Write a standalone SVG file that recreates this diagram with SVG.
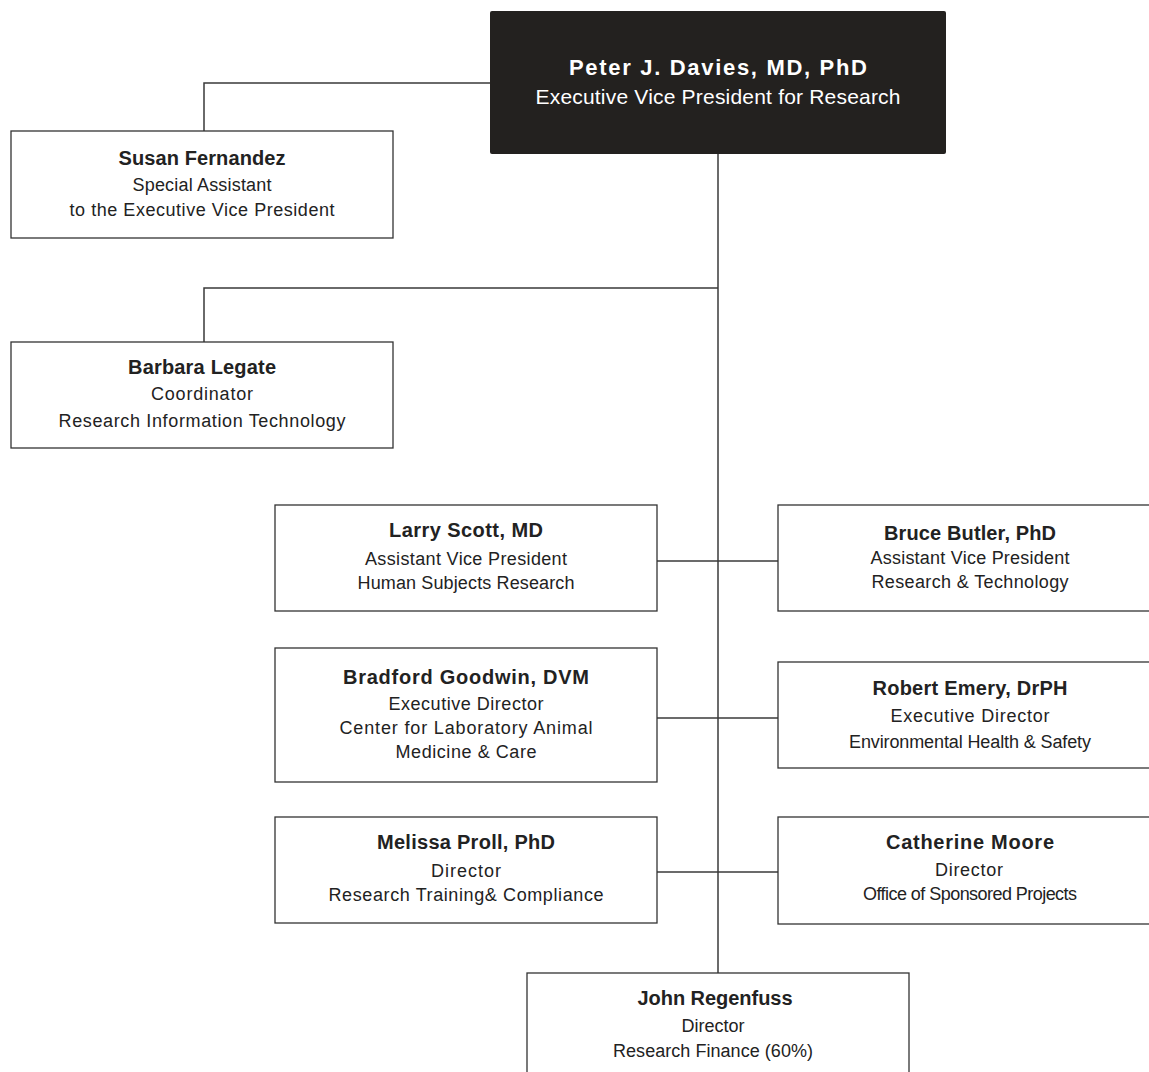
<svg xmlns="http://www.w3.org/2000/svg" width="1149" height="1072" viewBox="0 0 1149 1072">
<style>
.box{fill:#ffffff;stroke:#333333;stroke-width:1.3}
.top{fill:#23211f;stroke:none}
.name{font-family:"Liberation Sans",Arial,sans-serif;font-weight:bold;font-size:20px;fill:#222222;text-anchor:middle}
.sub{font-family:"Liberation Sans",Arial,sans-serif;font-size:18px;fill:#222222;text-anchor:middle}
.tname{font-family:"Liberation Sans",Arial,sans-serif;font-weight:bold;font-size:22px;fill:#ffffff;text-anchor:middle}
.tsub{font-family:"Liberation Sans",Arial,sans-serif;font-size:21px;fill:#ffffff;text-anchor:middle}
.conn{fill:none;stroke:#3a3a3a;stroke-width:1.5}
</style>
<rect width="1149" height="1072" fill="#ffffff"/>
<g id="connectors">
<line class="conn" x1="718" y1="154" x2="718" y2="973" stroke-width="2"/>
<polyline class="conn" points="490,83 204,83 204,131"/>
<polyline class="conn" points="718,288 204,288 204,342"/>
<line class="conn" x1="657" y1="561" x2="778" y2="561"/>
<line class="conn" x1="657" y1="718" x2="778" y2="718"/>
<line class="conn" x1="657" y1="872" x2="778" y2="872"/>
</g>
<g id="peter">
<rect class="top" x="490" y="11" width="456" height="143" rx="2"/>
<text class="tname" x="718" y="75" textLength="298" lengthAdjust="spacing">Peter J. Davies, MD, PhD</text>
<text class="tsub" x="718" y="104" textLength="365" lengthAdjust="spacing">Executive Vice President for Research</text>
</g>
<g id="susan">
<rect class="box" x="11" y="131" width="382" height="107"/>
<text class="name" x="202" y="165" textLength="167" lengthAdjust="spacing">Susan Fernandez</text>
<text class="sub" x="202" y="191" textLength="139" lengthAdjust="spacing">Special Assistant</text>
<text class="sub" x="202" y="216" textLength="265" lengthAdjust="spacing">to the Executive Vice President</text>
</g>
<g id="barbara">
<rect class="box" x="11" y="342" width="382" height="106"/>
<text class="name" x="202" y="374" textLength="148" lengthAdjust="spacing">Barbara Legate</text>
<text class="sub" x="202" y="400" textLength="102" lengthAdjust="spacing">Coordinator</text>
<text class="sub" x="202" y="427" textLength="287" lengthAdjust="spacing">Research Information Technology</text>
</g>
<g id="larry">
<rect class="box" x="275" y="505" width="382" height="106"/>
<text class="name" x="466" y="537" textLength="154" lengthAdjust="spacing">Larry Scott, MD</text>
<text class="sub" x="466" y="565" textLength="202" lengthAdjust="spacing">Assistant Vice President</text>
<text class="sub" x="466" y="589" textLength="217" lengthAdjust="spacing">Human Subjects Research</text>
</g>
<g id="bruce">
<rect class="box" x="778" y="505" width="382" height="106"/>
<text class="name" x="970" y="540" textLength="172" lengthAdjust="spacing">Bruce Butler, PhD</text>
<text class="sub" x="970" y="564" textLength="199" lengthAdjust="spacing">Assistant Vice President</text>
<text class="sub" x="970" y="588" textLength="197" lengthAdjust="spacing">Research &amp; Technology</text>
</g>
<g id="bradford">
<rect class="box" x="275" y="648" width="382" height="134"/>
<text class="name" x="466" y="684" textLength="246" lengthAdjust="spacing">Bradford Goodwin, DVM</text>
<text class="sub" x="466" y="710" textLength="155" lengthAdjust="spacing">Executive Director</text>
<text class="sub" x="466" y="734" textLength="253" lengthAdjust="spacing">Center for Laboratory Animal</text>
<text class="sub" x="466" y="758" textLength="141" lengthAdjust="spacing">Medicine &amp; Care</text>
</g>
<g id="robert">
<rect class="box" x="778" y="662" width="382" height="106"/>
<text class="name" x="970" y="695" textLength="195" lengthAdjust="spacing">Robert Emery, DrPH</text>
<text class="sub" x="970" y="722" textLength="159" lengthAdjust="spacing">Executive Director</text>
<text class="sub" x="970" y="748" textLength="242" lengthAdjust="spacing">Environmental Health &amp; Safety</text>
</g>
<g id="melissa">
<rect class="box" x="275" y="817" width="382" height="106"/>
<text class="name" x="466" y="849" textLength="178" lengthAdjust="spacing">Melissa Proll, PhD</text>
<text class="sub" x="466" y="877" textLength="70" lengthAdjust="spacing">Director</text>
<text class="sub" x="466" y="901" textLength="275" lengthAdjust="spacing">Research Training&amp; Compliance</text>
</g>
<g id="catherine">
<rect class="box" x="778" y="817" width="382" height="107"/>
<text class="name" x="970" y="849" textLength="168" lengthAdjust="spacing">Catherine Moore</text>
<text class="sub" x="969" y="876" textLength="68" lengthAdjust="spacing">Director</text>
<text class="sub" x="970" y="900" textLength="214" lengthAdjust="spacing">Office of Sponsored Projects</text>
</g>
<g id="john">
<rect class="box" x="527" y="973" width="382" height="110"/>
<text class="name" x="715" y="1005" textLength="155" lengthAdjust="spacing">John Regenfuss</text>
<text class="sub" x="713" y="1032" textLength="63" lengthAdjust="spacing">Director</text>
<text class="sub" x="713" y="1057" textLength="200" lengthAdjust="spacing">Research Finance (60%)</text>
</g>
</svg>
